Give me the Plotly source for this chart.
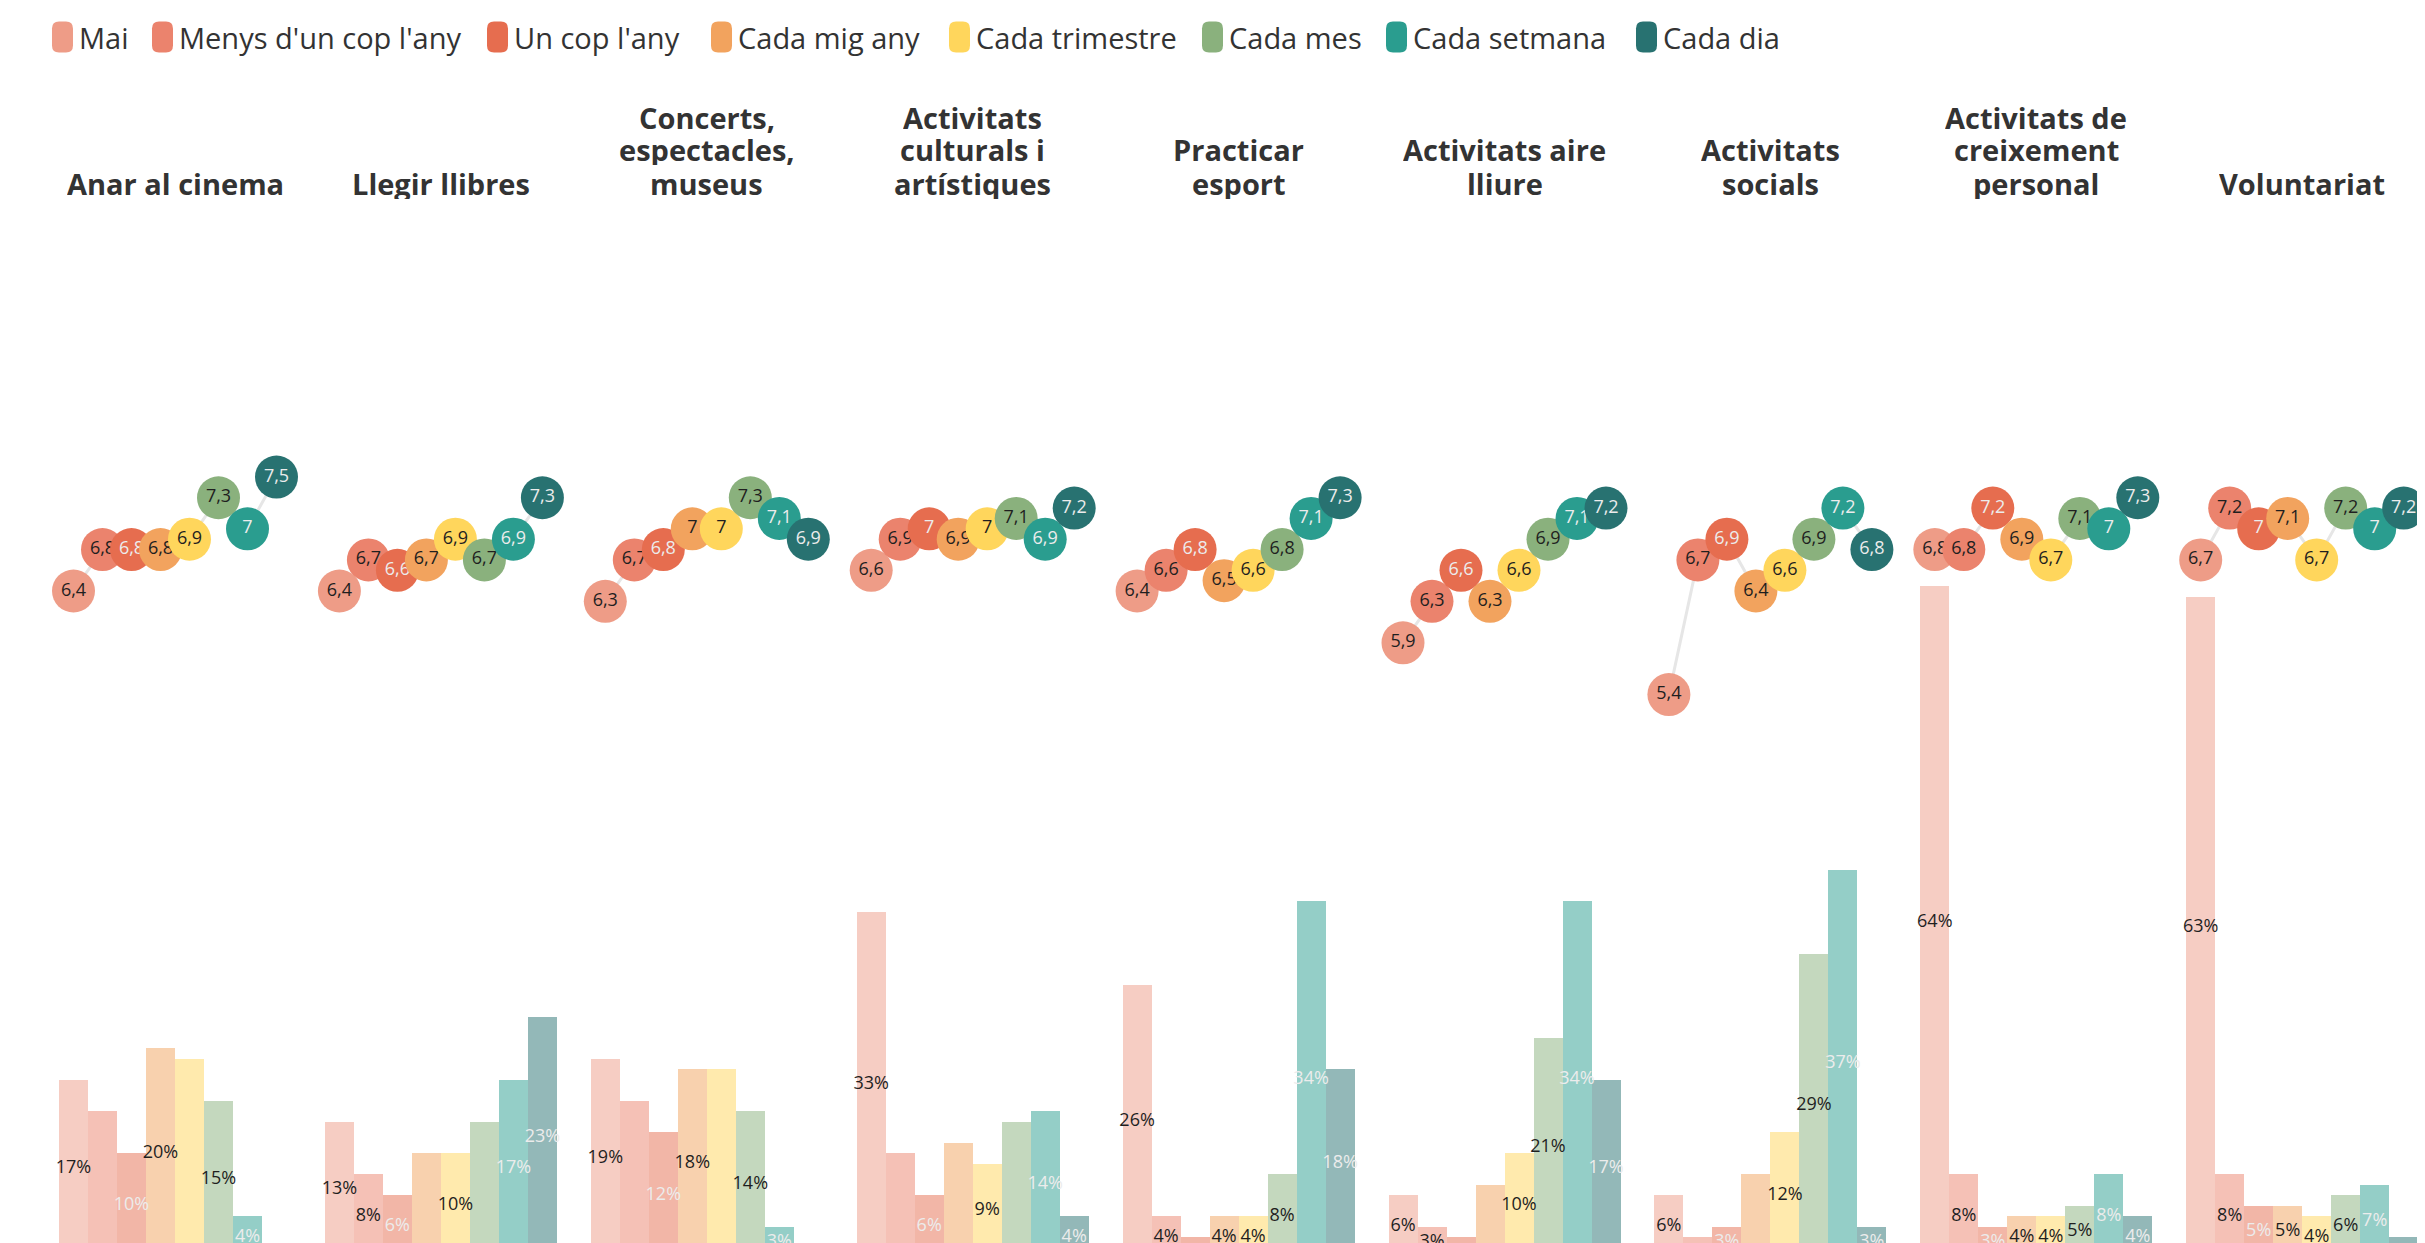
import textwrap
import plotly.graph_objects as go

# ---------------- DATA ----------------
FREQUENCIES = ["Mai", "Menys d'un cop l'any", "Un cop l'any", "Cada mig any",
               "Cada trimestre", "Cada mes", "Cada setmana", "Cada dia"]

ACTIVITIES = ["Anar al cinema", "Llegir llibres", "Concerts, espectacles, museus",
              "Activitats culturals i artístiques", "Practicar esport",
              "Activitats aire lliure", "Activitats socials",
              "Activitats de creixement personal", "Voluntariat"]

# average score per activity (rows) and frequency (columns)
SCORES = [
    [6.4, 6.8, 6.8, 6.8, 6.9, 7.3, 7.0, 7.5],
    [6.4, 6.7, 6.6, 6.7, 6.9, 6.7, 6.9, 7.3],
    [6.3, 6.7, 6.8, 7.0, 7.0, 7.3, 7.1, 6.9],
    [6.6, 6.9, 7.0, 6.9, 7.0, 7.1, 6.9, 7.2],
    [6.4, 6.6, 6.8, 6.5, 6.6, 6.8, 7.1, 7.3],
    [5.9, 6.3, 6.6, 6.3, 6.6, 6.9, 7.1, 7.2],
    [5.4, 6.7, 6.9, 6.4, 6.6, 6.9, 7.2, 6.8],
    [6.8, 6.8, 7.2, 6.9, 6.7, 7.1, 7.0, 7.3],
    [6.7, 7.2, 7.0, 7.1, 6.7, 7.2, 7.0, 7.2],
]

# share of respondents (%) per activity and frequency
SHARES = [
    [17, 14, 10, 20, 19, 15, 4, 1],
    [13, 8, 6, 10, 10, 13, 17, 23],
    [19, 15, 12, 18, 18, 14, 3, 1],
    [33, 10, 6, 11, 9, 13, 14, 4],
    [26, 4, 2, 4, 4, 8, 34, 18],
    [6, 3, 2, 7, 10, 21, 34, 17],
    [6, 2, 3, 8, 12, 29, 37, 3],
    [64, 8, 3, 4, 4, 5, 8, 4],
    [63, 8, 5, 5, 4, 6, 7, 2],
]

# ---------------- STYLE / LAYOUT ----------------
COLORS = ["#EE9C87", "#EB836D", "#E66D4F", "#F2A35E",
          "#FFD65C", "#8AB17D", "#2A9D8F", "#287271"]
DARK_TEXT = "#1f1f1f"
LIGHT_TEXT = "#ececec"
LABEL_COLORS = [DARK_TEXT, DARK_TEXT, LIGHT_TEXT, DARK_TEXT,
                DARK_TEXT, DARK_TEXT, LIGHT_TEXT, LIGHT_TEXT]
FONT = "Open Sans"
LABEL_FONT = "Open Sans"

W, H = 2425, 1243
BAR_PX = 29.0            # width of one bar in pixels
PANEL_PITCH_PX = 265.9   # distance between panel starts
LEFT_PX = 51.0           # left edge of first bar
NF = len(FREQUENCIES)
STEP = PANEL_PITCH_PX / BAR_PX  # x-units per panel

X0 = -0.5 - LEFT_PX / BAR_PX
X1 = X0 + W / BAR_PX

PCT_PX = 10.5            # pixels per percentage point
BASE_PX = 1250.0         # pixel row of 0%
Y_R0 = (BASE_PX - H) / PCT_PX
Y_R1 = Y_R0 + H / PCT_PX

SCORE_PX = 103.6         # pixels per score point
SCORE_REF, SCORE_REF_PX = 6.4, 583.0
S_R0 = SCORE_REF - (H - SCORE_REF_PX) / SCORE_PX
S_R1 = SCORE_REF + SCORE_REF_PX / SCORE_PX

LABEL_SIZE = 18
DOT_SIZE = 43
TITLE_SIZE = 29
TITLE_LAST_LINE_PX = 175
TITLE_LINE_PX = 33
LEGEND_SIZE = 29


def xpos(p, j):
    return p * STEP + j


def fmt_score(v):
    s = ("%.1f" % v).rstrip("0").rstrip(".")
    return s.replace(".", ",")


def text_w(t):
    return sum((0.8 if ch == "%" else 0.58) for ch in t) * LABEL_SIZE


# decide which bar labels are shown (skip labels that collide / don't fit)
TEXT_H = LABEL_SIZE * 1.3
shown = [[False] * NF for _ in ACTIVITIES]
for p, row in enumerate(SHARES):
    placed = []
    for j in range(NF - 1, -1, -1):
        v = row[j]
        if v * PCT_PX < TEXT_H:
            continue
        t = "%d%%" % round(v)
        cx = j * BAR_PX
        cy = v / 2 * PCT_PX
        ok = True
        for (k, px, py, w) in placed:
            if abs(px - cx) < (w + text_w(t)) / 2 and abs(py - cy) < TEXT_H:
                ok = False
                break
        if ok:
            placed.append((j, cx, cy, text_w(t)))
            shown[p][j] = True

fig = go.Figure()

# bars
for j, f in enumerate(FREQUENCIES):
    fig.add_trace(go.Bar(
        x=[xpos(p, j) for p in range(len(ACTIVITIES))],
        y=[SHARES[p][j] for p in range(len(ACTIVITIES))],
        width=1.0, marker=dict(color=COLORS[j], opacity=0.5, line=dict(width=0)),
        name=f, showlegend=False, hoverinfo="skip", yaxis="y"))

# bar labels
for j, f in enumerate(FREQUENCIES):
    fig.add_trace(go.Scatter(
        x=[xpos(p, j) for p in range(len(ACTIVITIES))],
        y=[SHARES[p][j] / 2 for p in range(len(ACTIVITIES))],
        text=[("%d%%" % round(SHARES[p][j])) if shown[p][j] else ""
              for p in range(len(ACTIVITIES))],
        mode="text", textposition="middle center",
        textfont=dict(family=LABEL_FONT, size=LABEL_SIZE, color=LABEL_COLORS[j]),
        showlegend=False, hoverinfo="skip", cliponaxis=False, yaxis="y"))

# connecting lines
for p in range(len(ACTIVITIES)):
    fig.add_trace(go.Scatter(
        x=[xpos(p, j) for j in range(NF)], y=SCORES[p],
        mode="lines", line=dict(color="#e6e6e6", width=3),
        showlegend=False, hoverinfo="skip", yaxis="y2", cliponaxis=False))

# dots
for j, f in enumerate(FREQUENCIES):
    fig.add_trace(go.Scatter(
        x=[xpos(p, j) for p in range(len(ACTIVITIES))],
        y=[SCORES[p][j] for p in range(len(ACTIVITIES))],
        text=[fmt_score(SCORES[p][j]) for p in range(len(ACTIVITIES))],
        mode="markers+text", textposition="middle center",
        marker=dict(size=DOT_SIZE, color=COLORS[j], line=dict(width=0)),
        textfont=dict(family=LABEL_FONT, size=LABEL_SIZE, color=LABEL_COLORS[j]),
        name=f, showlegend=False, hoverinfo="skip", yaxis="y2", cliponaxis=False))

annotations = []
shapes = []

# panel titles (one annotation per line to control line spacing)
for p, a in enumerate(ACTIVITIES):
    lines = textwrap.wrap(a, 15)
    n = len(lines)
    for k, line in enumerate(lines):
        cy = TITLE_LAST_LINE_PX - (n - 1 - k) * TITLE_LINE_PX
        annotations.append(dict(
            x=xpos(p, (NF - 1) / 2), xref="x", y=1 - cy / H, yref="paper",
            xanchor="center", yanchor="middle", showarrow=False,
            height=TITLE_LINE_PX - 2, valign="middle",
            text="<b>" + line + "</b>",
            font=dict(family=FONT, size=TITLE_SIZE, color="#333333"), align="center"))

# legend (custom pills)
LEG_X = [44, 144, 479, 703, 941, 1194, 1378, 1628]
LEG_CY, SW_W, SW_H, RAD = 29, 21, 31, 7
for j, f in enumerate(FREQUENCIES):
    l, r = LEG_X[j], LEG_X[j] + SW_W
    t, b = LEG_CY - SW_H / 2, LEG_CY + SW_H / 2

    def P(px, py):
        return "%.5f,%.5f" % (px / W, 1 - py / H)
    path = ("M " + P(l + RAD, t) + " L " + P(r - RAD, t) +
            " Q " + P(r, t) + " " + P(r, t + RAD) +
            " L " + P(r, b - RAD) + " Q " + P(r, b) + " " + P(r - RAD, b) +
            " L " + P(l + RAD, b) + " Q " + P(l, b) + " " + P(l, b - RAD) +
            " L " + P(l, t + RAD) + " Q " + P(l, t) + " " + P(l + RAD, t) + " Z")
    shapes.append(dict(type="path", xref="paper", yref="paper", path=path,
                       fillcolor=COLORS[j], line=dict(width=0)))
    annotations.append(dict(
        x=(LEG_X[j] + SW_W + 4) / W, xref="paper", y=1 - LEG_CY / H, yref="paper",
        xanchor="left", yanchor="middle", showarrow=False, text=f,
        font=dict(family=FONT, size=LEGEND_SIZE, color="#333333")))

fig.update_layout(
    width=W, height=H,
    margin=dict(l=0, r=0, t=0, b=0),
    paper_bgcolor="white", plot_bgcolor="white",
    barmode="overlay", bargap=0,
    xaxis=dict(range=[X0, X1], visible=False, fixedrange=True),
    yaxis=dict(range=[Y_R0, Y_R1], visible=False, fixedrange=True),
    yaxis2=dict(range=[S_R0, S_R1], visible=False, overlaying="y", fixedrange=True),
    annotations=annotations, shapes=shapes,
    showlegend=False,
)

fig.write_html("out.html", config={"displayModeBar": False})
